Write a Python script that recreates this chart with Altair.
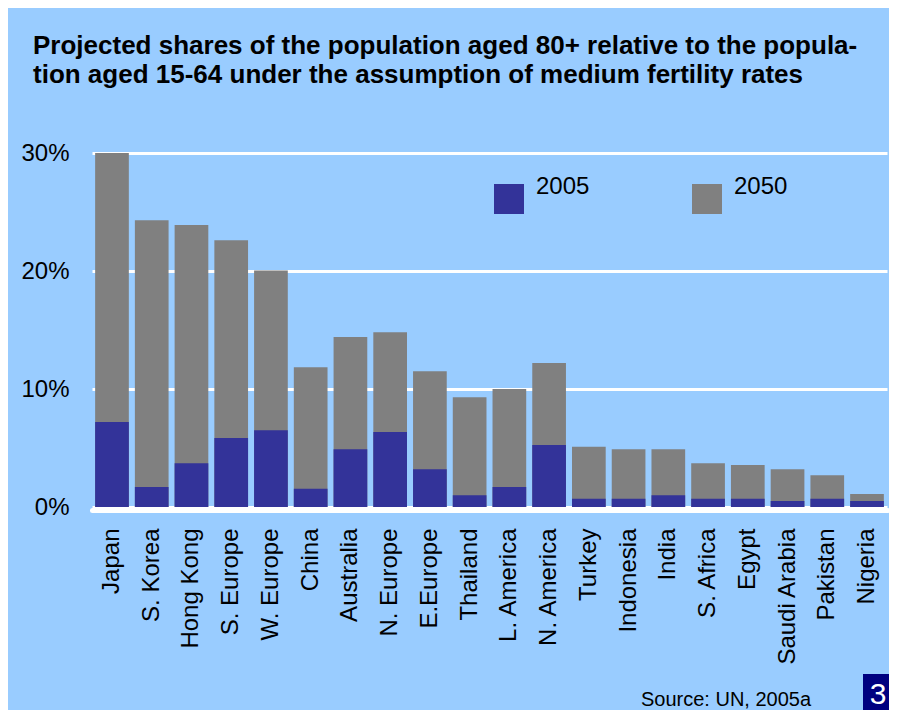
import altair as alt
import pandas as pd

regions = ["Japan", "S. Korea", "Hong Kong", "S. Europe", "W. Europe", "China",
           "Australia", "N. Europe", "E.Europe", "Thailand", "L. America",
           "N. America", "Turkey", "Indonesia", "India", "S. Africa", "Egypt",
           "Saudi Arabia", "Pakistan", "Nigeria"]
share_2005 = [7.2, 1.7, 3.7, 5.85, 6.5, 1.55, 4.9, 6.35, 3.2, 1.0, 1.7,
              5.25, 0.7, 0.7, 1.0, 0.7, 0.7, 0.5, 0.7, 0.5]
share_2050 = [30.0, 24.3, 23.9, 22.6, 20.05, 11.85, 14.4, 14.8, 11.5, 9.3,
              10.0, 12.2, 5.1, 4.9, 4.9, 3.7, 3.55, 3.2, 2.7, 1.1]
series = ["2005", "2050"]
series_colors = ["#333399", "#808080"]
y_ticks = [0, 10, 20, 30]
title_lines = ["Projected shares of the population aged 80+ relative to the popula-",
               "tion aged 15-64 under the assumption of medium fertility rates"]
source_text = "Source: UN, 2005a"
page_number = "3"

FONT = "Liberation Sans"

rows = []
for r, v in zip(regions, share_2050):
    rows.append({"region": r, "series": "2050", "share": v})
for r, v in zip(regions, share_2005):
    rows.append({"region": r, "series": "2005", "share": v})
df = pd.DataFrame(rows)

x_enc = alt.X("region:N", sort=regions,
              scale=alt.Scale(paddingInner=0.152, paddingOuter=0.079),
              axis=alt.Axis(title=None, labelAngle=270, labelAlign="right",
                            labelBaseline="middle", labelFont=FONT,
                            labelFontSize=24, labelColor="black",
                            labelPadding=18, ticks=False, tickSize=0,
                            domainColor="white", domainWidth=5,
                            domainCap="round", offset=3, grid=False,
                            labelOverlap=False))
y_enc = alt.Y("share:Q", stack=None,
              scale=alt.Scale(domain=[0, 30], nice=False),
              axis=alt.Axis(title=None, values=y_ticks,
                            labelExpr="datum.value + '%'", labelFont=FONT,
                            labelFontSize=24, labelColor="black",
                            labelPadding=23, ticks=False, tickSize=0,
                            domain=False, grid=True, gridColor="white",
                            gridWidth=3, gridOpacity=1))
color_enc = alt.Color("series:N",
                      scale=alt.Scale(domain=series, range=series_colors),
                      legend=alt.Legend(title=None, orient="none",
                                        legendX=402, legendY=31,
                                        direction="horizontal",
                                        symbolType="square", symbolSize=900,
                                        symbolStrokeWidth=0, symbolOpacity=1,
                                        labelFont=FONT, labelFontSize=24,
                                        labelColor="black", labelOffset=12,
                                        labelBaseline="bottom",
                                        columnPadding=102, padding=0))

base = alt.Chart(df)
bars_2050 = base.transform_filter(alt.datum.series == "2050").mark_bar(
    opacity=1).encode(x=x_enc, y=y_enc, color=color_enc)
bars_2005 = base.transform_filter(alt.datum.series == "2005").mark_bar(
    opacity=1).encode(x=x_enc, y=y_enc, color=color_enc)

src = alt.Chart(pd.DataFrame({"t": [source_text]})).mark_text(
    align="left", baseline="alphabetic", font=FONT, fontSize=20,
    color="black").encode(x=alt.value(549), y=alt.value(553), text="t:N")
box = alt.Chart(pd.DataFrame({"t": [page_number]})).mark_rect(
    color="#000080").encode(x=alt.value(771), x2=alt.value(800),
                            y=alt.value(521), y2=alt.value(558))
num = alt.Chart(pd.DataFrame({"t": [page_number]})).mark_text(
    align="center", baseline="alphabetic", font=FONT, fontSize=30,
    color="white").encode(x=alt.value(786), y=alt.value(551), text="t:N")

chart = alt.layer(bars_2050, bars_2005, src, box, num).properties(
    width=795, height=354,
    title=alt.TitleParams(text=title_lines, anchor="start", frame="group",
                          font=FONT, fontSize=26, fontWeight="bold",
                          color="black", lineHeight=29, dx=-59, offset=53),
    autosize=alt.AutoSizeParams(type="none"),
    padding={"left": 84, "top": 145, "right": 2, "bottom": 203},
    background="#99CCFF",
).configure_view(stroke=None)

chart.save("out.html", embed_options={"renderer": "svg", "actions": False})
